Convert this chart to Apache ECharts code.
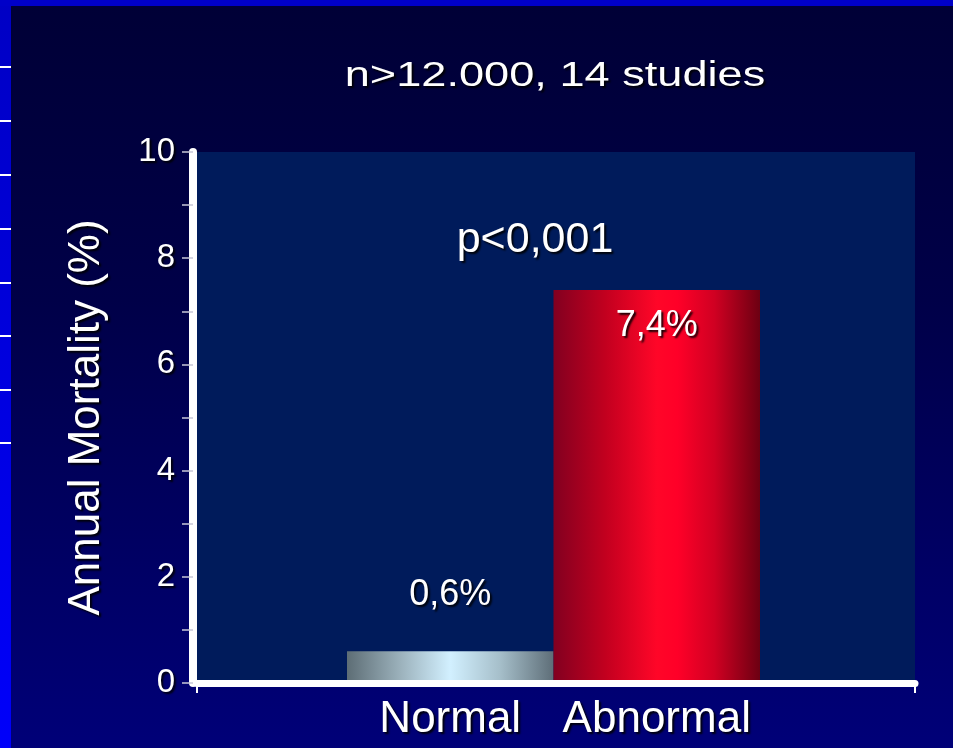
<!DOCTYPE html>
<html>
<head>
<meta charset="utf-8">
<script src="https://cdn.jsdelivr.net/npm/echarts@6/dist/echarts.min.js"></script>
<style>
  html, body { margin: 0; padding: 0; }
  #chart {
    width: 953px;
    height: 748px;
    background: linear-gradient(to bottom, #000036 0%, #000048 40%, #000078 100%);
  }
</style>
</head>
<body>
<div id="chart"></div>
<script>
// Annual mortality by test result
const categories = ['Normal', 'Abnormal'];
const mortality = [0.6, 7.4];
const yMin = 0;
const yMax = 10;
const yStep = 2;
const titleText = 'n>12.000, 14 studies';
const pValueText = 'p<0,001';
const yAxisName = 'Annual Mortality (%)';

const FONT = '"Liberation Sans", Arial, sans-serif';
const shadow = {
  textShadowColor: 'rgba(0,0,0,0.9)',
  textShadowBlur: 2,
  textShadowOffsetX: 2,
  textShadowOffsetY: 2
};

function hGradient(stops) {
  return {
    type: 'linear', x: 0, y: 0, x2: 1, y2: 0,
    colorStops: stops.map(([offset, color]) => ({ offset, color }))
  };
}

const barFills = [
  hGradient([[0, '#5d6d75'], [0.26, '#9cb2bc'], [0.5, '#d2f0ff'], [0.74, '#a6bfca'], [1, '#5e6e78']]),
  hGradient([[0, '#820020'], [0.25, '#c2001f'], [0.5, '#ff0628'], [0.6, '#ff0028'], [0.78, '#d00022'], [1, '#6c0012']])
];
const labelPlacement = [
  { position: 'top', distance: 38 },
  { position: 'insideTop', distance: 18 }
];

const fmtPercent = v => String(v).replace('.', ',') + '%';

const chart = echarts.init(document.getElementById('chart'), null, { renderer: 'canvas' });

// slide frame: blue strip on the left with white rules, thin strip on top
const ruleYs = [67, 121, 175, 229, 283, 336, 390, 443];
const frame = [
  {
    type: 'rect', z: 10,
    shape: { x: 0, y: 0, width: 11, height: 748 },
    style: { fill: { type: 'linear', x: 0, y: 0, x2: 0, y2: 1,
      colorStops: [{ offset: 0, color: '#0000c4' }, { offset: 1, color: '#0000fa' }] } }
  },
  {
    type: 'rect', z: 10,
    shape: { x: 0, y: 0, width: 953, height: 6 },
    style: { fill: '#0000c8' }
  }
].concat(ruleYs.map(y => ({
  type: 'rect', z: 11,
  shape: { x: 0, y: y - 1, width: 11, height: 2 },
  style: { fill: '#ffffff' }
})));

chart.setOption({
  backgroundColor: 'transparent',
  animation: false,
  textStyle: { fontFamily: FONT },
  graphic: frame.concat([
    {
      type: 'text', z: 20,
      x: 555, y: 76, scaleX: 1.29,
      style: Object.assign({
        text: titleText, x: 0, y: 0,
        textAlign: 'center', textVerticalAlign: 'middle',
        font: 'normal 35px ' + FONT, fill: '#ffffff'
      }, shadow)
    },
    {
      type: 'text', z: 20,
      x: 535, y: 240,
      style: Object.assign({
        text: pValueText, x: 0, y: 0,
        textAlign: 'center', textVerticalAlign: 'middle',
        font: 'normal 43px ' + FONT, fill: '#ffffff'
      }, shadow)
    }
  ]),
  grid: [
    { left: 197, right: 38, top: 152, bottom: 65, show: true,
      backgroundColor: '#001b5b', borderWidth: 0 },
    { left: 347, right: 193, top: 152, bottom: 65 }
  ],
  xAxis: [
    {
      gridIndex: 0, type: 'category', data: [''],
      axisLine: { show: true, lineStyle: { color: '#ffffff', width: 7 } },
      axisTick: { show: true, length: 10, lineStyle: { color: '#ffffff', width: 2 } },
      axisLabel: { show: false },
      splitLine: { show: false },
      z: 5
    },
    {
      gridIndex: 1, type: 'category', data: categories,
      axisLine: { show: false },
      axisTick: { show: false },
      axisLabel: Object.assign({
        color: '#ffffff', fontSize: 44, margin: 15, fontFamily: FONT,
        interval: 0, hideOverlap: false
      }, shadow)
    }
  ],
  yAxis: [
    {
      gridIndex: 0, type: 'value',
      min: yMin, max: yMax, interval: yStep,
      offset: 4,
      axisLine: { show: true, lineStyle: { color: '#ffffff', width: 8 } },
      axisTick: { show: true, length: 11, lineStyle: { color: '#c8c8d8', width: 1.5 } },
      minorTick: { show: true, splitNumber: 2, length: 11, lineStyle: { color: '#c8c8d8', width: 1.5 } },
      splitLine: { show: false },
      axisLabel: Object.assign({
        color: '#ffffff', fontSize: 33, margin: 18, fontFamily: FONT
      }, shadow),
      name: yAxisName,
      nameLocation: 'middle',
      nameGap: 84,
      nameTextStyle: Object.assign({
        color: '#ffffff', fontSize: 44, fontFamily: FONT
      }, shadow),
      z: 5
    },
    {
      gridIndex: 1, type: 'value',
      min: yMin, max: yMax, interval: yStep,
      show: false
    }
  ],
  series: [
    {
      type: 'bar',
      xAxisIndex: 1, yAxisIndex: 1,
      barCategoryGap: '0%',
      z: 3,
      data: categories.map((name, i) => ({
        value: mortality[i],
        itemStyle: { color: barFills[i] },
        label: Object.assign({
          show: true,
          formatter: p => fmtPercent(p.value),
          color: '#ffffff', fontSize: 36, fontFamily: FONT
        }, labelPlacement[i], shadow)
      }))
    }
  ]
});
</script>
</body>
</html>
